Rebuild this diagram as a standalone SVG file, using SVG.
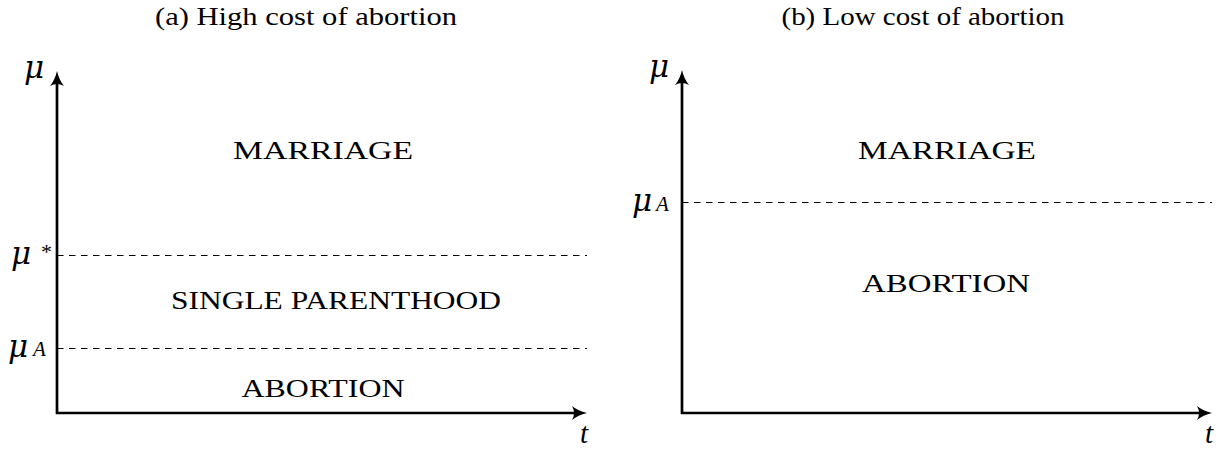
<svg xmlns="http://www.w3.org/2000/svg" width="1221" height="449" viewBox="0 0 1221 449">
<defs>
<style>
.axis{stroke:#000;stroke-width:2.7;fill:none}
.dash{stroke:#000;stroke-width:1;stroke-dasharray:6.5 5.5;fill:none}
.head{fill:#000;stroke:none}
.lbl{font-family:"Liberation Serif","Times New Roman",serif;fill:#000}
.region{font-size:26px;text-anchor:middle}
.title{font-size:25px;text-anchor:middle}
.math{font-family:"DejaVu Serif","Liberation Serif",serif;font-style:italic;fill:#000}
.mu{font-size:31px}
.sub{font-family:"Liberation Serif",serif;font-style:italic;font-size:21px}
</style>
<path id="uphead" class="head" d="M0,0 Q2,9 7,15 Q0,11 -7,15 Q-2,9 0,0 Z"/>
<path id="righthead" class="head" d="M0,0 Q-9,2 -15,7 Q-11,0 -15,-7 Q-9,-2 0,0 Z"/>
</defs>
<rect width="1221" height="449" fill="#fff"/>
<g id="titles">
<text class="lbl title" x="306" y="25" textLength="302" lengthAdjust="spacingAndGlyphs">(a) High cost of abortion</text>
<text class="lbl title" x="923" y="25" textLength="283" lengthAdjust="spacingAndGlyphs">(b) Low cost of abortion</text>
</g>
<g id="connectors">
<line class="axis" x1="57" y1="414" x2="57" y2="80"/>
<line class="axis" x1="56" y1="413" x2="578" y2="413"/>
<use href="#uphead" x="57" y="71"/>
<use href="#righthead" x="587" y="413"/>
<line class="dash" x1="57" y1="255.5" x2="587" y2="255.5"/>
<line class="dash" x1="57" y1="348.5" x2="587" y2="348.5"/>
<line class="axis" x1="682" y1="414" x2="682" y2="80"/>
<line class="axis" x1="681" y1="413" x2="1203" y2="413"/>
<use href="#uphead" x="682" y="70"/>
<use href="#righthead" x="1212" y="413"/>
<line class="dash" x1="682" y1="202.5" x2="1212" y2="202.5"/>
</g>
<g id="panel-a">
<text class="math mu" x="24" y="78">μ</text>
<text class="math mu" x="11" y="264">μ</text>
<text class="lbl" x="41" y="259" font-size="22">*</text>
<text class="math mu" x="8" y="357">μ</text>
<text class="lbl sub" x="33" y="356">A</text>
<text class="lbl" x="580" y="443" font-size="29" font-style="italic">t</text>
<text class="lbl region" x="323" y="159" textLength="180" lengthAdjust="spacingAndGlyphs">MARRIAGE</text>
<text class="lbl region" x="336" y="309" textLength="330" lengthAdjust="spacingAndGlyphs">SINGLE PARENTHOOD</text>
<text class="lbl region" x="323" y="397" textLength="163" lengthAdjust="spacingAndGlyphs">ABORTION</text>
</g>
<g id="panel-b">
<text class="math mu" x="649" y="77">μ</text>
<text class="math mu" x="632" y="211">μ</text>
<text class="lbl sub" x="656" y="211">A</text>
<text class="lbl" x="1205" y="443" font-size="29" font-style="italic">t</text>
<text class="lbl region" x="947" y="159" textLength="178" lengthAdjust="spacingAndGlyphs">MARRIAGE</text>
<text class="lbl region" x="946" y="292" textLength="168" lengthAdjust="spacingAndGlyphs">ABORTION</text>
</g>
</svg>
